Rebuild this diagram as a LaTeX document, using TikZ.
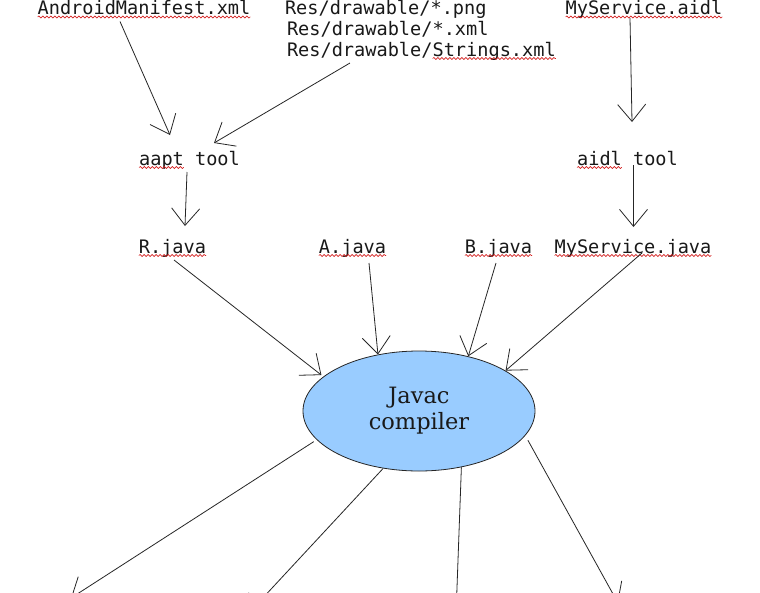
\documentclass[tikz,border=0pt]{standalone}
\usepackage{fontspec}
\setmonofont{DejaVu Sans Mono}
\newfontfamily\javacfont{DejaVu Serif}
\usetikzlibrary{arrows.meta,shapes.geometric,decorations.pathmorphing}
\definecolor{javacblue}{HTML}{99CCFF}
\definecolor{wavered}{HTML}{D42020}

\begin{document}
\begin{tikzpicture}[x=1pt,y=-1pt,>={Straight Barb[length=17pt,width=28pt]},
    file/.style={font=\ttfamily\fontsize{18.6}{21}\selectfont, text=black!90, inner sep=0pt, outer sep=3pt, text height=13.6pt, text depth=4pt},
    link/.style={draw=black!85, line width=0.8pt},
    spell/.style={draw=wavered, line width=0.6pt, decorate, decoration={snake, segment length=4pt, amplitude=1pt}}]
    \useasboundingbox (0,0) rectangle (760,592);
    \clip (0,0) rectangle (760,592);
    \fill[white] (0,0) rectangle (760,592);

    % inputs
    \node[file] (manifest) at (144,9.7) {AndroidManifest.xml};
    \node[file,anchor=west] (res1) at (282,9.2) {Res/drawable/*.png};
    \node[file,anchor=west] (res2) at (284,30.2) {Res/drawable/*.xml};
    \node[file,anchor=west] (res3) at (284,51.2) {Res/drawable/Strings.xml};
    \node[file] (aidlfile) at (644,9.7) {MyService.aidl};

    % tools
    \node[file] (aapt) at (189.5,160.2) {aapt tool};
    \node[file] (aidl) at (627.5,160.2) {aidl tool};

    % sources
    \node[file] (rjava) at (172.5,248.2) {R.java};
    \node[file] (ajava) at (352.5,248.2) {A.java};
    \node[file] (bjava) at (498.5,248.2) {B.java};
    \node[file] (msjava) at (633,248.2) {MyService.java};

    % compiler
    \node[ellipse, link, fill=javacblue, minimum width=232pt, minimum height=120pt, inner sep=0pt,
      align=center, font=\javacfont\fontsize{22.5}{26}\selectfont, text=black!90] (javac) at (419,411) {Javac\\compiler};

    % spell-check waves
    \foreach \n in {manifest,aidlfile,rjava,ajava,bjava,msjava}
      \draw[spell] ([xshift=3pt,yshift=-2.5pt]\n.base west) -- ([xshift=-3pt,yshift=-2.5pt]\n.base east);
    \draw[spell] ([xshift=148.6pt,yshift=-2.5pt]res3.base west) -- ++(123.2,0);
    \draw[spell] ([xshift=3pt,yshift=-2.5pt]aapt.base west) -- ++(44.8,0);
    \draw[spell] ([xshift=3pt,yshift=-2.5pt]aidl.base west) -- ++(44.8,0);

    % outputs run off the bottom edge
    \coordinate (out1) at (71,598);
    \coordinate (out2) at (247,615);
    \coordinate (out3) at (456,615);
    \coordinate (out4) at (618,603);

    \path[->, every edge/.style={link}]
    ([xshift=-24pt]manifest.south) edge ([xshift=-19.5pt,yshift=13.4pt]aapt.north)
    ([xshift=-71.4pt]res3.south) edge ([xshift=24.5pt,yshift=5.4pt]aapt.north)
    ([xshift=-14pt,yshift=3.5pt]aidlfile.south) edge ([xshift=4.5pt,yshift=26.4pt]aidl.north)

    ([xshift=-2.5pt]aapt.south) edge ([xshift=12.5pt,yshift=10.4pt]rjava.north)
    ([xshift=6pt,yshift=7pt]aidl.south) edge ([xshift=0.5pt,yshift=9.4pt]msjava.north)

    ([xshift=1.5pt]rjava.south) edge ([xshift=-4pt]javac.159)
    ([xshift=16.5pt,yshift=-3pt]ajava.south) edge (javac.126)
    ([xshift=-2.5pt,yshift=-3pt]bjava.south) edge (javac.48)
    ([xshift=9pt,yshift=7pt]msjava.south) edge (javac.25)

    ([xshift=-5pt]javac.197) edge (out1)
    (javac.238) edge (out2)
    (javac.307) edge (out3)
    ([xshift=7pt]javac.344) edge (out4);

\end{tikzpicture}
\end{document}
